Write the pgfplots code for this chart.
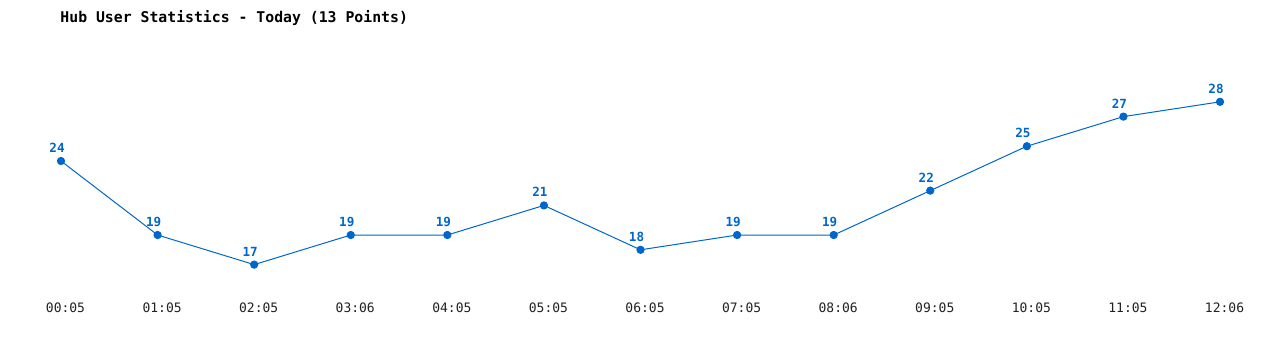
\documentclass[border=0pt]{standalone}
\usepackage{pgfplots}
\pgfplotsset{compat=1.18}
\usepackage{fontspec}
\setmainfont{DejaVu Sans Mono}
\definecolor{lineblue}{HTML}{0066CC}
\definecolor{txt}{HTML}{222222}
\begin{document}
\begin{tikzpicture}
\begin{axis}[
  scale only axis,
  width=640pt, height=175pt,
  xmin=-0.6316, xmax=12.621,
  ymin=11.23, ymax=34.88,
  axis lines=none,
  clip=false,
  /pgf/number format/assume math mode=true,
  xtick=\empty,
  ytick=\empty,
]
\path (rel axis cs:0,0) rectangle (rel axis cs:1,1);
\addplot[color=lineblue, line width=0.5pt, mark=*, mark size=1.8pt,
  mark options={fill=lineblue, draw=lineblue},
  nodes near coords,
  every node near coord/.append style={font=\fontsize{6.3pt}{7pt}\selectfont\bfseries, text=lineblue, anchor=center, yshift=6.6pt, xshift=-2pt},
] coordinates {
(0,24) (1,19) (2,17) (3,19) (4,19) (5,21) (6,18) (7,19) (8,19) (9,22) (10,25) (11,27) (12,28)
};
\foreach \i/\l in {0/00:05,1/01:05,2/02:05,3/03:06,4/04:05,5/05:05,6/06:05,7/07:05,8/08:06,9/09:05,10/10:05,11/11:05,12/12:06} {
  \edef\tmp{\noexpand\node[font=\noexpand\fontsize{6.5pt}{8pt}\noexpand\selectfont, text=txt, anchor=center, xshift=2.25pt] at (axis cs:\i,{24-(308-161)/14.8}) {\l};}
  \tmp
}
\node[anchor=west, inner sep=0pt, font=\fontsize{7.4pt}{9pt}\selectfont\bfseries, text=black] at (rel axis cs:0.0469,0.9486) {Hub User Statistics - Today (13 Points)};
\end{axis}
\end{tikzpicture}
\end{document}
